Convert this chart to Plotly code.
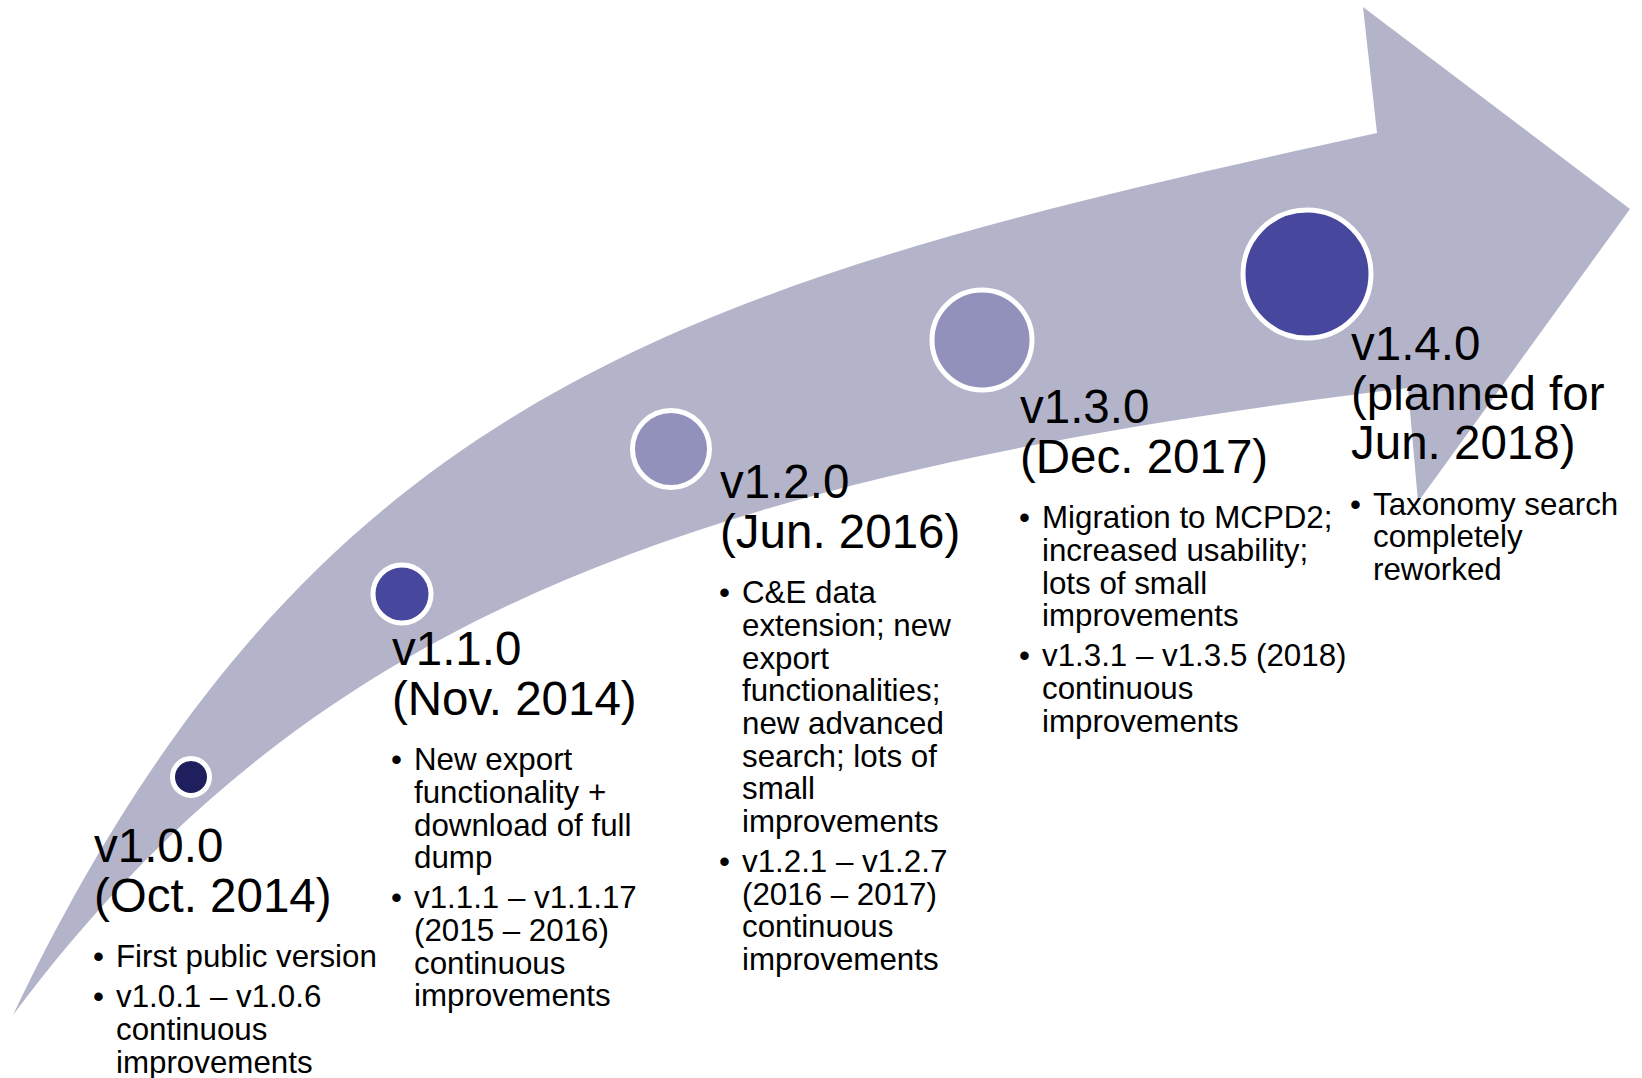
import plotly.graph_objects as go

# ---- content -------------------------------------------------------------
versions = ["v1.0.0", "v1.1.0", "v1.2.0", "v1.3.0", "v1.4.0"]
release_dates = [
    ["(Oct. 2014)"],
    ["(Nov. 2014)"],
    ["(Jun. 2016)"],
    ["(Dec. 2017)"],
    ["(planned for", "Jun. 2018)"],
]
# each release: list of bullet points, each bullet already wrapped into lines
release_notes = [
    [["First public version"],
     ["v1.0.1 \u2013 v1.0.6", "continuous", "improvements"]],
    [["New export", "functionality +", "download of full", "dump"],
     ["v1.1.1 \u2013 v1.1.17", "(2015 \u2013 2016)", "continuous", "improvements"]],
    [["C&E data", "extension; new", "export", "functionalities;", "new advanced",
      "search; lots of", "small", "improvements"],
     ["v1.2.1 \u2013 v1.2.7", "(2016 \u2013 2017)", "continuous", "improvements"]],
    [["Migration to MCPD2;", "increased usability;", "lots of small", "improvements"],
     ["v1.3.1 \u2013 v1.3.5 (2018)", "continuous", "improvements"]],
    [["Taxonomy search", "completely", "reworked"]],
]

# ---- layout (pixel space: x right, y down) -------------------------------
W, H = 1642, 1078
node_x = [191, 402, 671, 982, 1307]
node_y = [777, 594, 449, 340, 274]
node_size = [37, 58, 77, 100, 128]
node_colors = ["#1F1F5E", "#47479D", "#9191BC", "#9191BC", "#47479D"]
label_x = [94, 392, 720, 1020, 1351]
label_baseline = [862, 665, 498, 423, 360]

ARROW_COLOR = "#B3B4CA"
FONT = "Arial, 'Liberation Sans', sans-serif"
HEAD_SIZE, BODY_SIZE = 47.5, 31.3
HEAD_STEP, BODY_STEP, PARA_STEP, GAP = 49.5, 32.7, 40, 56
ASC = 0.3465  # baseline offset from the vertical centre of a text line (em)

fig = go.Figure()

# curved arrow body + head
arrow_path = (
    "M 13,1015 C 314,385 694,283 1377,133 "
    "L 1363,7 L 1630,209 L 1418,502 L 1408,388 "
    "C 663,478 301,631 13,1015 Z"
)
fig.add_shape(type="path", path=arrow_path, xref="x", yref="y",
              fillcolor=ARROW_COLOR, line=dict(width=0), layer="below")

# milestone circles
fig.add_trace(go.Scatter(
    x=node_x, y=node_y, mode="markers", hoverinfo="skip",
    marker=dict(size=node_size, color=node_colors,
                line=dict(color="white", width=5), opacity=1),
    showlegend=False,
))


def text_line(x, baseline, txt, size, anchor="left"):
    fig.add_annotation(
        x=x, y=baseline - ASC * size, xref="x", yref="y",
        text=txt, showarrow=False, xanchor=anchor, yanchor="middle",
        font=dict(family=FONT, size=size, color="black"),
        borderpad=0,
    )


for i, ver in enumerate(versions):
    x0 = label_x[i]
    b = label_baseline[i]
    heading = [ver] + release_dates[i]
    for j, line in enumerate(heading):
        text_line(x0 - 1, b + j * HEAD_STEP, line, HEAD_SIZE)
    b = b + (len(heading) - 1) * HEAD_STEP + GAP
    for k, bullet in enumerate(release_notes[i]):
        if k > 0:
            b += PARA_STEP
        text_line(x0 + 4.5, b, "\u2022", BODY_SIZE, anchor="center")
        for m, line in enumerate(bullet):
            if m > 0:
                b += BODY_STEP
            text_line(x0 + 21, b, line, BODY_SIZE)

fig.update_xaxes(range=[0, W], visible=False, fixedrange=True)
fig.update_yaxes(range=[H, 0], visible=False, fixedrange=True)
fig.update_layout(
    width=W, height=H, margin=dict(l=0, r=0, t=0, b=0),
    paper_bgcolor="white", plot_bgcolor="white", showlegend=False,
)

fig.write_html("out.html", config={"displayModeBar": False})
